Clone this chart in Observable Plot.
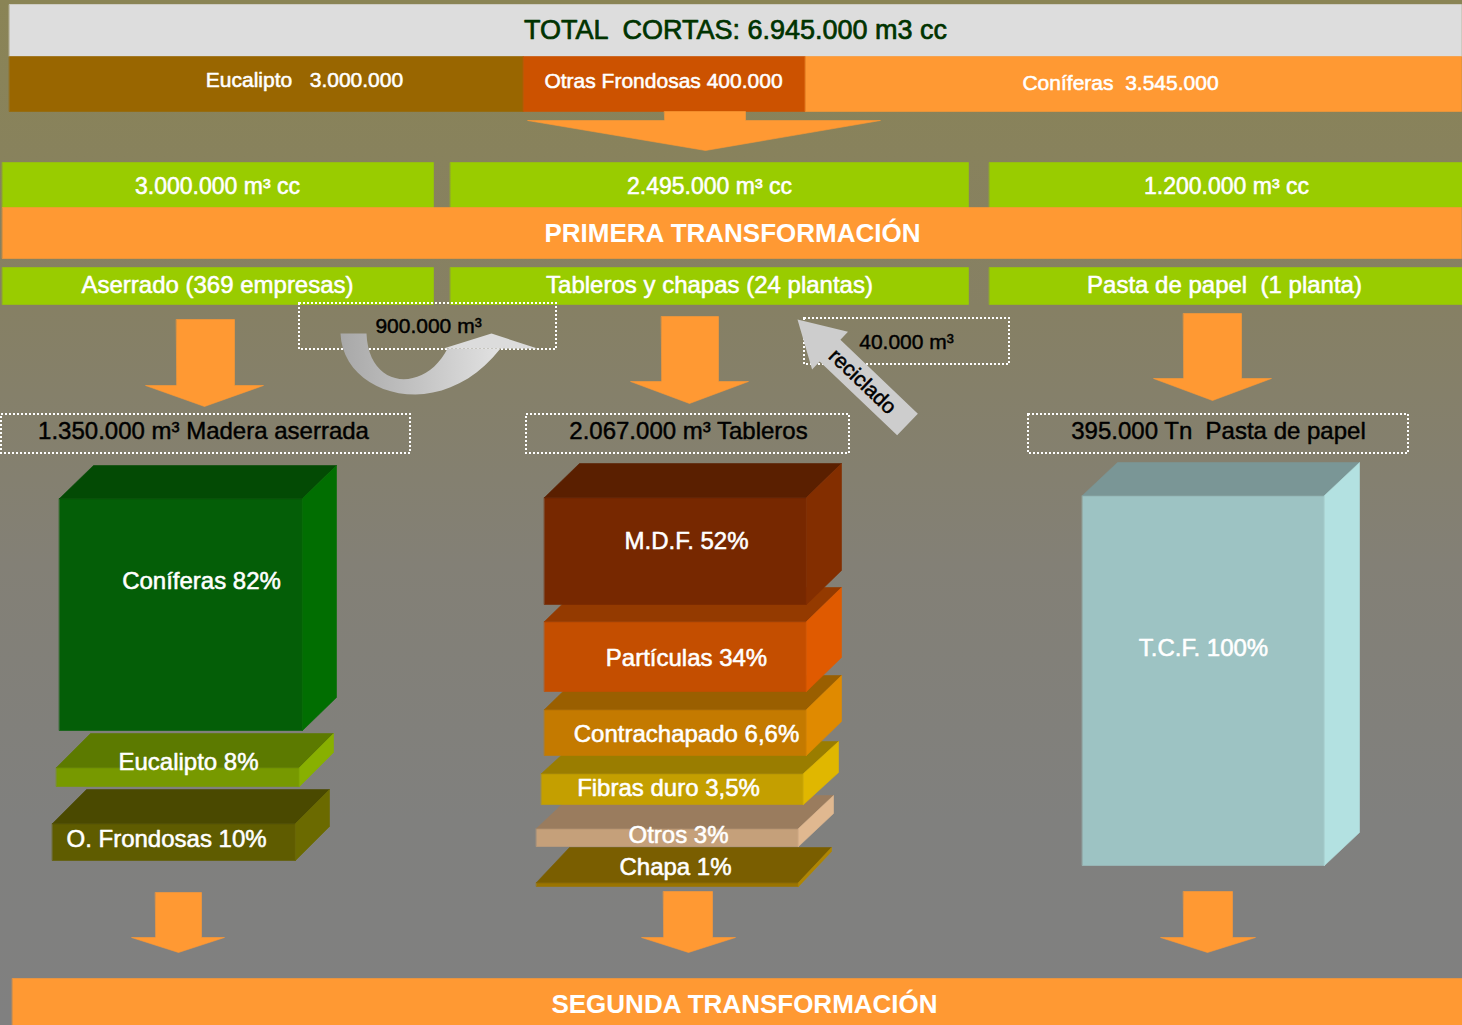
<!DOCTYPE html>
<html><head><meta charset="utf-8">
<script src="https://cdn.jsdelivr.net/npm/d3@7"></script>
<script src="https://cdn.jsdelivr.net/npm/@observablehq/plot@0.6"></script>
<style>
html,body{margin:0;padding:0;background:#808080;overflow:hidden;}
svg{display:block}
svg text{white-space:pre;}
</style>
</head><body><div id="chart"></div>
<script>
// ---------------- DATA ----------------
const totalLabel = "TOTAL  CORTAS: 6.945.000 m3 cc";
const speciesNames = ["Eucalipto", "Otras Frondosas", "Coníferas"];
const speciesVolumes = ["3.000.000", "400.000", "3.545.000"];
const speciesGaps = ["   ", " ", "  "];
const inputVolumes = ["3.000.000", "2.495.000", "1.200.000"];
const inputUnit = "m³ cc";
const stage1Label = "PRIMERA TRANSFORMACIÓN";
const stage2Label = "SEGUNDA TRANSFORMACIÓN";
const industries = ["Aserrado (369 empresas)", "Tableros y chapas (24 plantas)", "Pasta de papel  (1 planta)"];
const outputVolumes = ["1.350.000 m³", "2.067.000 m³", "395.000 Tn "];
const outputProducts = ["Madera aserrada", "Tableros", "Pasta de papel"];
const transferVolume = "900.000 m³";
const recycledVolume = "40.000 m³";
const recycledLabel = "reciclado";
const aserradoNames = ["Coníferas", "Eucalipto", "O. Frondosas"];
const aserradoPct = ["82%", "8%", "10%"];
const tablerosNames = ["M.D.F.", "Partículas", "Contrachapado", "Fibras duro", "Otros", "Chapa"];
const tablerosPct = ["52%", "34%", "6,6%", "3,5%", "3%", "1%"];
const pastaNames = ["T.C.F."];
const pastaPct = ["100%"];

// ---------------- LAYOUT / STYLE ----------------
const W = 1462, H = 1025;
const FONT = "'Liberation Sans', Arial, Helvetica, sans-serif";
const ORANGE = "#FF9933", GREEN = "#99CC00";

const speciesBars = [
  {x1: 9, x2: 523, fill: "#996600", tx: 304, ty: 80},
  {x1: 523, x2: 805, fill: "#CC5200", tx: 663, ty: 81},
  {x1: 805, x2: 1461, fill: ORANGE, tx: 1120, ty: 83}
];
const cols = [
  {x1: 2, x2: 433, t1: 217, t2: 217},
  {x1: 450, x2: 968, t1: 709, t2: 709},
  {x1: 989, x2: 1462, t1: 1226, t2: 1224}
];
const downArrows = [
  {s1: 664, s2: 745, top: 111, neck: 120, h1: 527, h2: 880, tx: 705, tip: 150},
  {s1: 176, s2: 234, top: 319, neck: 385, h1: 145, h2: 263, tx: 204, tip: 406},
  {s1: 661, s2: 718, top: 316, neck: 381, h1: 630, h2: 748, tx: 689, tip: 403},
  {s1: 1183, s2: 1241, top: 313, neck: 378, h1: 1153, h2: 1271, tx: 1212, tip: 400},
  {s1: 155, s2: 201, top: 892, neck: 937, h1: 131, h2: 224, tx: 178, tip: 952},
  {s1: 663, s2: 712, top: 891, neck: 937, h1: 641, h2: 735, tx: 688, tip: 952},
  {s1: 1183, s2: 1232, top: 891, neck: 937, h1: 1160, h2: 1255, tx: 1207, tip: 952}
];
const dottedBoxes = [
  {x1: 299, x2: 556, y1: 303, y2: 349, tx: 428, ty: 326},
  {x1: 804, x2: 1009, y1: 318, y2: 364, tx: 906, ty: 342},
  {x1: 1, x2: 410, y1: 414, y2: 453, tx: 203, ty: 431},
  {x1: 526, x2: 849, y1: 414, y2: 453, tx: 688, ty: 431},
  {x1: 1028, x2: 1408, y1: 414, y2: 453, tx: 1218, ty: 431}
];
// 3D boxes: front rect (x,y,w,h), depth (dx,dy), colours, label position
const aserradoBoxes = [
  {x: 59, y: 498, w: 243, h: 232, dx: 34, dy: -33, front: "#045E07", top: "#034A04", side: "#016E01", tx: 201, ty: 581, anchor: "middle"},
  {x: 56, y: 767, w: 243, h: 19, dx: 34, dy: -34, front: "#779900", top: "#5C7A00", side: "#88B000", tx: 188, ty: 762, anchor: "middle"},
  {x: 52, y: 823, w: 243, h: 37, dx: 34, dy: -34, front: "#5F5C00", top: "#4A4900", side: "#6B6A00", tx: 66, ty: 839, anchor: "start"}
];
const tablerosBoxes = [
  {x: 544, y: 497, w: 262, h: 107, dx: 35, dy: -34, front: "#772800", top: "#5A1F00", side: "#832E00", tx: 686, ty: 541},
  {x: 544, y: 621, w: 262, h: 70, dx: 35, dy: -34, front: "#C44E00", top: "#943A00", side: "#E05A00", tx: 686, ty: 658},
  {x: 544, y: 709, w: 262, h: 46, dx: 35, dy: -34, front: "#C47A00", top: "#9A5F00", side: "#E08A00", tx: 686, ty: 734},
  {x: 541, y: 773, w: 262, h: 31, dx: 35, dy: -32, front: "#C49F00", top: "#9A7D00", side: "#E0B700", tx: 668, ty: 788},
  {x: 536, y: 828, w: 262, h: 18, dx: 35, dy: -33, front: "#C5A07A", top: "#9A7C5E", side: "#E0B890", tx: 678, ty: 835},
  {x: 536, y: 882, w: 262, h: 4, dx: 33, dy: -35, front: "#9A7400", top: "#7A5E00", side: "#B08600", tx: 675, ty: 867}
];
const pastaBoxes = [
  {x: 1082, y: 495, w: 242, h: 370, dx: 35, dy: -33, front: "#9DC3C3", top: "#7A9696", side: "#B3E1E1", tx: 1203, ty: 648}
];
// recycled arrow geometry (tip, tail, widths)
const recArrow = {tip: [797, 319], tail: [907, 424], headLen: 45, headHalf: 26, shaftHalf: 15};
// curved transfer arrow (cubic bezier control points)
const curveOuter = [[340, 333], [342, 395], [440, 425], [500, 348]];
const curveInner = [[447, 348], [425, 392], [368, 390], [366, 333]];
const curveHead = [[443, 348], [491, 333], [537, 348]];

// ---------------- GEOMETRY BUILDERS ----------------
const basePolys = [], overPolys = [];
let pid = 0;
function addPoly(arr, pts, fill) { const id = pid++; for (const [x, y] of pts) arr.push({id, x, y, fill}); }
function addRect(arr, x1, y1, x2, y2, fill) { addPoly(arr, [[x1, y1], [x2, y1], [x2, y2], [x1, y2]], fill); }
function addBox(arr, b) {
  const {x, y, w, h, dx, dy} = b;
  addRect(arr, x, y, x + w, y + h, b.front);
  addPoly(arr, [[x, y], [x + dx, y + dy], [x + w + dx, y + dy], [x + w, y]], b.top);
  addPoly(arr, [[x + w, y], [x + w + dx, y + dy], [x + w + dx, y + h + dy], [x + w, y + h]], b.side);
}
function addDownArrow(arr, a, fill) {
  addPoly(arr, [[a.s1, a.top], [a.s2, a.top], [a.s2, a.neck], [a.h2, a.neck], [a.tx, a.tip], [a.h1, a.neck], [a.s1, a.neck]], fill);
}
function bez(p, n) {
  const out = [];
  for (let i = 0; i <= n; i++) {
    const t = i / n, u = 1 - t;
    out.push([
      u*u*u*p[0][0] + 3*u*u*t*p[1][0] + 3*u*t*t*p[2][0] + t*t*t*p[3][0],
      u*u*u*p[0][1] + 3*u*u*t*p[1][1] + 3*u*t*t*p[2][1] + t*t*t*p[3][1]
    ]);
  }
  return out;
}

// top section
addRect(basePolys, 9, 4, 1461, 56, "#DDDDDD");
speciesBars.forEach(s => addRect(basePolys, s.x1, 56, s.x2, 111, s.fill));
cols.forEach(c => addRect(basePolys, c.x1, 162, c.x2, 207, GREEN));
addRect(basePolys, 2, 207, 1461, 258, ORANGE);
cols.forEach(c => addRect(basePolys, c.x1, 267, c.x2, 304, GREEN));
downArrows.forEach(a => addDownArrow(basePolys, a, ORANGE));
addRect(basePolys, 12, 978, 1462, 1025, ORANGE);
// 3D boxes: draw lowest first
[...aserradoBoxes].reverse().forEach(b => addBox(basePolys, b));
[...tablerosBoxes].reverse().forEach(b => addBox(basePolys, b));
pastaBoxes.forEach(b => addBox(basePolys, b));

// overlay arrows
addPoly(overPolys, [...bez(curveOuter, 24), ...bez(curveInner, 24)], "url(#curveGrad)");
addPoly(overPolys, curveHead, "#DCDCDC");
{
  const [tx, ty] = recArrow.tip, [ex, ey] = recArrow.tail;
  const L = Math.hypot(ex - tx, ey - ty), ux = (ex - tx) / L, uy = (ey - ty) / L, nx = -uy, ny = ux;
  const bx = tx + ux * recArrow.headLen, by = ty + uy * recArrow.headLen;
  const hh = recArrow.headHalf, sh = recArrow.shaftHalf;
  addPoly(overPolys, [
    [tx, ty], [bx + nx * hh, by + ny * hh], [bx + nx * sh, by + ny * sh], [ex + nx * sh, ey + ny * sh],
    [ex - nx * sh, ey - ny * sh], [bx - nx * sh, by - ny * sh], [bx - nx * hh, by - ny * hh]
  ], "#CDCDCD");
}

// ---------------- TEXTS ----------------
const whiteTexts = [], blackTexts = [], boldTexts = [];
speciesBars.forEach((s, i) => whiteTexts.push({x: s.tx, y: s.ty, t: speciesNames[i] + speciesGaps[i] + speciesVolumes[i], s: 21}));
cols.forEach((c, i) => whiteTexts.push({x: c.t1, y: 186, t: `${inputVolumes[i]} ${inputUnit}`, s: 23}));
cols.forEach((c, i) => whiteTexts.push({x: c.t2, y: 285, t: industries[i], s: 24}));
aserradoBoxes.forEach((b, i) => { if (b.anchor === "middle") whiteTexts.push({x: b.tx, y: b.ty, t: `${aserradoNames[i]} ${aserradoPct[i]}`, s: 24}); });
tablerosBoxes.forEach((b, i) => whiteTexts.push({x: b.tx, y: b.ty, t: `${tablerosNames[i]} ${tablerosPct[i]}`, s: 24}));
pastaBoxes.forEach((b, i) => whiteTexts.push({x: b.tx, y: b.ty, t: `${pastaNames[i]} ${pastaPct[i]}`, s: 24}));
const startTexts = aserradoBoxes.map((b, i) => ({b, i})).filter(d => d.b.anchor === "start")
  .map(({b, i}) => ({x: b.tx, y: b.ty, t: `${aserradoNames[i]} ${aserradoPct[i]}`, s: 24}));
blackTexts.push({x: dottedBoxes[0].tx, y: dottedBoxes[0].ty, t: transferVolume, s: 21});
blackTexts.push({x: dottedBoxes[1].tx, y: dottedBoxes[1].ty, t: recycledVolume, s: 21});
outputVolumes.forEach((v, i) => blackTexts.push({x: dottedBoxes[i + 2].tx, y: dottedBoxes[i + 2].ty, t: `${v} ${outputProducts[i]}`, s: 24}));
boldTexts.push({x: 732, y: 233, t: stage1Label, s: 26});
boldTexts.push({x: 744, y: 1004, t: stage2Label, s: 26});

const txt = (data, o) => Plot.text(data, {x: "x", y: "y", text: "t", fontSize: "s", fontFamily: FONT, strokeWidth: 0.55, ...o});

const chart = Plot.plot({
  width: W, height: H, margin: 0,
  x: {domain: [0, W], range: [0, W], axis: null},
  y: {domain: [0, H], range: [0, H], axis: null},
  color: {type: "identity"},
  style: {background: "transparent", fontFamily: FONT},
  marks: [
    Plot.rect([{}], {x1: 0, x2: W, y1: 0, y2: H, fill: "url(#bgGrad)"}),
    Plot.line(basePolys, {x: "x", y: "y", z: "id", fill: "fill", stroke: "fill", strokeWidth: 0.6, curve: "linear-closed"}),
    Plot.rect(dottedBoxes, {x1: "x1", x2: "x2", y1: "y1", y2: "y2", fill: "none", stroke: "white", strokeWidth: 2, strokeDasharray: "2,2"}),
    Plot.line(overPolys, {x: "x", y: "y", z: "id", fill: "fill", stroke: "none", curve: "linear-closed"}),
    txt([{x: 735, y: 30, t: totalLabel, s: 27}], {fill: "#003300", stroke: "#003300", strokeWidth: 0.7}),
    txt(whiteTexts, {fill: "white", stroke: "white"}),
    txt(startTexts, {fill: "white", stroke: "white", textAnchor: "start"}),
    txt(blackTexts, {fill: "black", stroke: "black", strokeWidth: 0.45}),
    txt(boldTexts, {fill: "white", fontWeight: "bold", strokeWidth: 0}),
    txt([{x: 862, y: 381, t: recycledLabel, s: 21}], {fill: "black", stroke: "black", strokeWidth: 0.5, rotate: 43.6})
  ]
});

const defs = d3.select(chart).insert("defs", ":first-child");
const bg = defs.append("linearGradient").attr("id", "bgGrad").attr("x1", 0).attr("y1", 0).attr("x2", 0).attr("y2", 1);
[["0%", "#8A8455"], ["30%", "#868064"], ["55%", "#838076"], ["80%", "#80807E"], ["100%", "#808080"]]
  .forEach(([o, c]) => bg.append("stop").attr("offset", o).attr("stop-color", c));
const cg = defs.append("linearGradient").attr("id", "curveGrad").attr("x1", 0).attr("y1", 0).attr("x2", 1).attr("y2", 0);
[["0%", "#A8A8A8"], ["50%", "#C4C4C4"], ["100%", "#E2E2E2"]]
  .forEach(([o, c]) => cg.append("stop").attr("offset", o).attr("stop-color", c));

document.getElementById("chart").appendChild(chart);
</script>
</body></html>
